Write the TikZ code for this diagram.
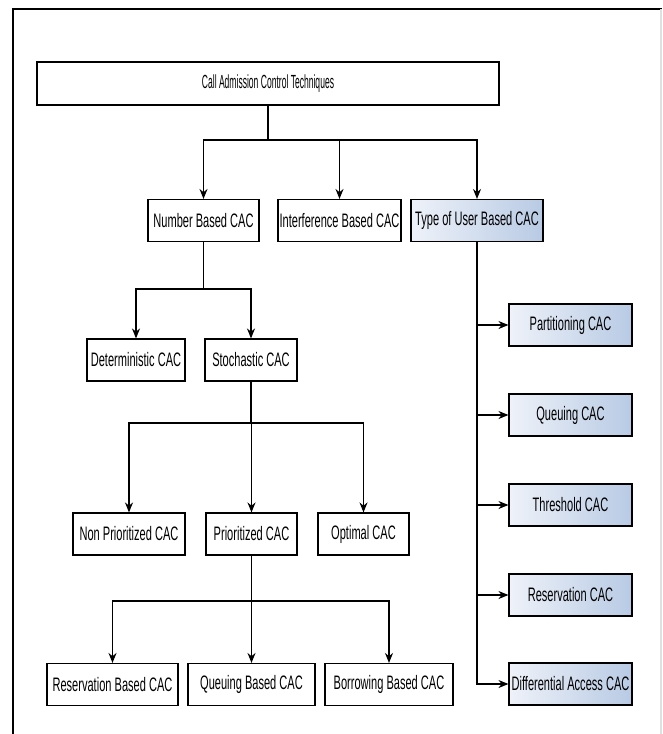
\documentclass[tikz,border=0pt]{standalone}
\usepackage{fontspec}
\setmainfont[FakeStretch=0.567]{Liberation Sans}
\newfontfamily\topfont[FakeStretch=0.45]{Liberation Sans}
\usetikzlibrary{arrows.meta}
\definecolor{boxleft}{RGB}{238,242,249}
\definecolor{boxright}{RGB}{184,202,228}

\begin{document}
\begin{tikzpicture}[x=1pt,y=-1pt,
    box/.style={draw,line width=1.1pt,inner sep=0pt,minimum height=42pt,
      font=\fontsize{19.5}{22}\selectfont},
    shadebox/.style={box,left color=boxleft,right color=boxright},
    link/.style={line width=1.1pt},
    arr/.style={link,-{Stealth[length=10pt,width=8pt]}}]
      \useasboundingbox (0,0) rectangle (662,734);
      \draw[line width=2.5pt] (13,734) -- (13,9) -- (662,9);
      \draw[black!12,line width=2pt] (661,9) -- (661,734);
      \draw
        (268,83.5) node[box,minimum width=462pt,minimum height=43pt,
          font=\topfont\fontsize{19}{22}\selectfont] (cact){Call Admission Control Techniques}
        (203.5,220.5) node[box,minimum width=111pt] (num){Number Based CAC}
        (339.5,220.5) node[box,minimum width=123pt] (intf){Interference Based CAC}
        (477,220.5) node[shadebox,minimum width=132pt] (user){Type of User Based CAC}
        (136,360) node[box,minimum width=98pt] (det){Deterministic CAC}
        (251,360) node[box,minimum width=92pt] (sto){Stochastic CAC}
        (129,534) node[box,minimum width=112pt] (nonp){Non Prioritized CAC}
        (251.5,534) node[box,minimum width=91pt] (prio){Prioritized CAC}
        (363.5,534) node[box,minimum width=91pt] (opt){Optimal CAC}
        (112.5,684.5) node[box,minimum width=131pt] (resb){Reservation Based CAC}
        (251.5,684.5) node[box,minimum width=127pt] (queb){Queuing Based CAC}
        (389,684.5) node[box,minimum width=128pt] (borb){Borrowing Based CAC}
        (570.5,325) node[shadebox,minimum width=123pt] (part){Partitioning CAC}
        (570.5,415) node[shadebox,minimum width=123pt] (queu){Queuing CAC}
        (570.5,505) node[shadebox,minimum width=123pt] (thre){Threshold CAC}
        (570.5,595) node[shadebox,minimum width=123pt] (rese){Reservation CAC}
        (570.5,684) node[shadebox,minimum width=123pt] (diff){Differential Access CAC};
      \coordinate (s0) at (268,140);
      \coordinate (s1) at (203.5,289);
      \coordinate (s2) at (251,423);
      \coordinate (s3) at (251.5,601);
      \begin{scope}[link]
        \draw (cact) to (s0);
        \draw (num) to (s1);
        \draw (sto) to (s2);
        \draw (prio) to (s3);
      \end{scope}
      \begin{scope}[arr]
        \draw (s0) -| (num);
        \draw (s0) -| (intf);
        \draw (s0) -| (user);
        \draw (s1) -| (det);
        \draw (s1) -| (sto);
        \draw (s2) -| (nonp);
        \draw (s2) -| (prio);
        \draw (s2) -| (opt);
        \draw (s3) -| (resb);
        \draw (s3) -| (queb);
        \draw (s3) -| (borb);
        \draw (user) |- (diff);
        \draw (user |- part) to (part);
        \draw (user |- queu) to (queu);
        \draw (user |- thre) to (thre);
        \draw (user |- rese) to (rese);
      \end{scope}
    \end{tikzpicture}
\end{document}
